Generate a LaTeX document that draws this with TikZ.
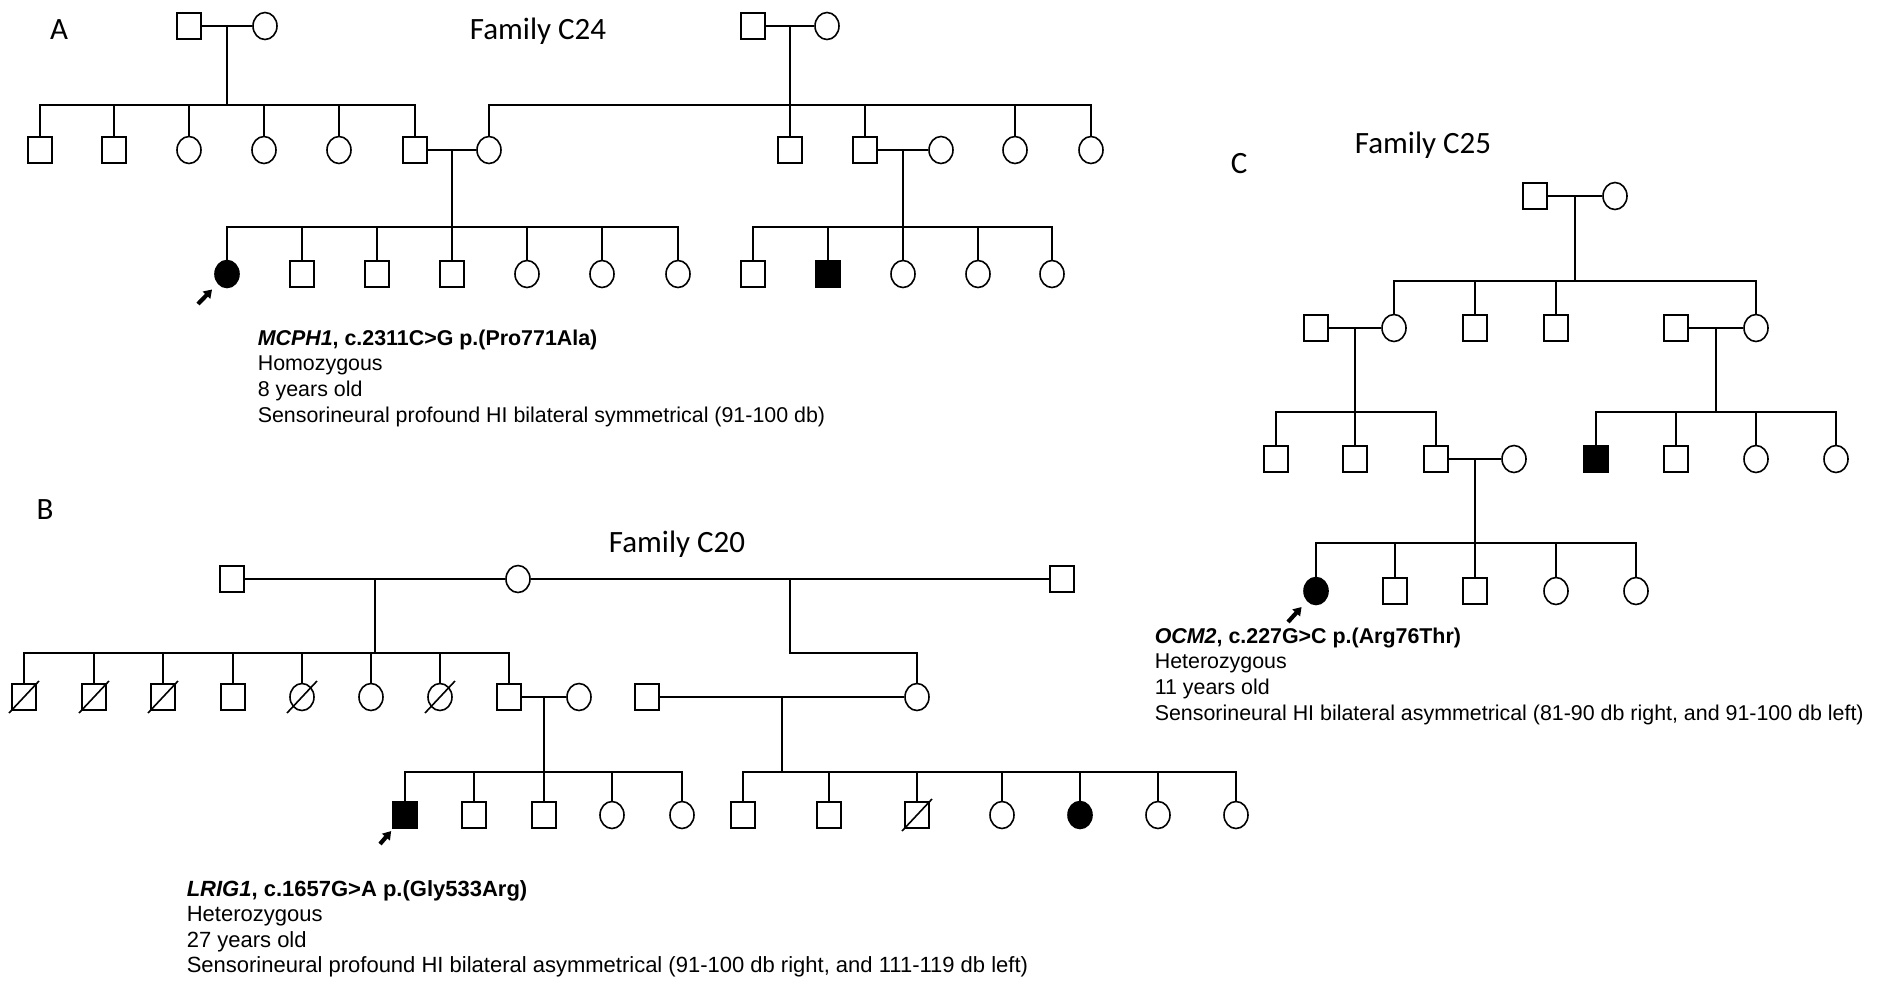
\documentclass[tikz,border=0pt]{standalone}
\usepackage{fontspec}
\usepackage{tikz}
\usetikzlibrary{shapes.geometric,arrows.meta,calc}
\newfontfamily\labelfont{Carlito}
\newfontfamily\infofont{Liberation Sans}

\begin{document}
\begin{tikzpicture}[x=0.5pt,y=-0.5pt,line width=0.8pt,
	male/.style={draw,rectangle,minimum width=12pt,minimum height=13pt,inner sep=0pt},
	female/.style={draw,ellipse,minimum width=12pt,minimum height=13.5pt,inner sep=0pt},
	aff/.style={fill=black},
	dead/.style={append after command={($(\tikzlastnode.center)+(-7.5pt,-8pt)$) edge ($(\tikzlastnode.center)+(7.5pt,8pt)$)}},
	famlabel/.style={font=\labelfont\fontsize{15.5}{18}\selectfont,anchor=base,inner sep=0pt},
	info/.style={font=\infofont\fontsize{10.7}{12.8}\selectfont,align=left,anchor=north west,inner sep=0pt},
	proband/.style={-{Triangle[length=4pt,width=5pt]},line width=2.1pt}]
		%
		\path[fill=white] (0,0) rectangle (1885,981);
		\useasboundingbox (0,0) rectangle (1885,981);
		%
		% Family C24
		\node[famlabel] (lblA) at (59,39) {A};
		\node[famlabel] (famA) at (538,39) {Family C24};
		\node[male] (a11) at (189,26) {};
		\node[female] (a12) at (265,26) {};
		\node[male] (a13) at (753,26) {};
		\node[female] (a14) at (827,26) {};
		\draw (a11) -- (a12);
		\draw (a13) -- (a14);
		\coordinate (a1m) at ($(a11)!0.5!(a12)$);
		\coordinate (a1n) at ($(a13)!0.5!(a14)$);
		\coordinate (yA2) at (0,105);
		%
		\node[male] (a21) at (40,150) {};
		\node[male] (a22) at (114,150) {};
		\node[female] (a23) at (189,150) {};
		\node[female] (a24) at (264,150) {};
		\node[female] (a25) at (339,150) {};
		\node[male] (a26) at (415,150) {};
		\node[female] (a27) at (489,150) {};
		\node[male] (a28) at (790,150) {};
		\node[male] (a29) at (865,150) {};
		\node[female] (a210) at (941,150) {};
		\node[female] (a211) at (1015,150) {};
		\node[female] (a212) at (1091,150) {};
		\draw (a1m) -- (a1m |- yA2);
		\draw (a21) |- (a26 |- yA2) -- (a26); %left sibs
		\draw (a22) -- (a22 |- yA2);
		\draw (a23) -- (a23 |- yA2);
		\draw (a24) -- (a24 |- yA2);
		\draw (a25) -- (a25 |- yA2);
		\draw (a27) |- (a212 |- yA2) -- (a212); %right sibs
		\draw (a1n) -- (a28);
		\draw (a29) -- (a29 |- yA2);
		\draw (a211) -- (a211 |- yA2);
		\draw (a26) -- (a27);
		\draw (a29) -- (a210);
		\coordinate (a2m) at ($(a26)!0.5!(a27)$);
		\coordinate (a2n) at ($(a29)!0.5!(a210)$);
		\coordinate (yA3) at (0,227);
		%
		\node[female,aff] (a31) at (227,274) {};
		\node[male] (a32) at (302,274) {};
		\node[male] (a33) at (377,274) {};
		\node[male] (a34) at (452,274) {};
		\node[female] (a35) at (527,274) {};
		\node[female] (a36) at (602,274) {};
		\node[female] (a37) at (678,274) {};
		\node[male] (a38) at (753,274) {};
		\node[male,aff] (a39) at (828,274) {};
		\node[female] (a310) at (903,274) {};
		\node[female] (a311) at (978,274) {};
		\node[female] (a312) at (1052,274) {};
		\draw (a2m) -- (a34);
		\draw (a31) |- (a37 |- yA3) -- (a37);
		\draw (a32) -- (a32 |- yA3);
		\draw (a33) -- (a33 |- yA3);
		\draw (a35) -- (a35 |- yA3);
		\draw (a36) -- (a36 |- yA3);
		\draw (a2n) -- (a310);
		\draw (a38) |- (a312 |- yA3) -- (a312);
		\draw (a39) -- (a39 |- yA3);
		\draw (a311) -- (a311 |- yA3);
		%
		\coordinate (pA) at (198,304);
		\draw[proband,shorten >=4pt] (pA) -- (a31);
		\node[info] (txtA) at (257,329) {\textbf{\textit{MCPH1}, c.2311C>G p.(Pro771Ala)}\\Homozygous\\8 years old\\Sensorineural profound HI bilateral symmetrical (91-100 db)};
		%
		% Family C20
		\node[famlabel] (lblB) at (45,519) {B};
		\node[famlabel] (famB) at (677,552) {Family C20};
		\node[male] (b11) at (232,579) {};
		\node[female] (b12) at (518,579) {};
		\node[male] (b13) at (1062,579) {};
		\draw (b11) -- (b12);
		\draw (b12) -- (b13);
		\coordinate (b1m) at ($(b11)!0.5!(b12)$);
		\coordinate (b1n) at ($(b12)!0.5!(b13)$);
		\coordinate (yB2) at (0,653);
		%
		\node[male,dead] (b21) at (24,697) {};
		\node[male,dead] (b22) at (94,697) {};
		\node[male,dead] (b23) at (163,697) {};
		\node[male] (b24) at (233,697) {};
		\node[female,dead] (b25) at (302,697) {};
		\node[female] (b26) at (371,697) {};
		\node[female,dead] (b27) at (440,697) {};
		\node[male] (b28) at (509,697) {};
		\node[female] (b29) at (579,697) {};
		\node[male] (b210) at (647,697) {};
		\node[female] (b211) at (917,697) {};
		\draw (b1m) -- (b1m |- yB2);
		\draw (b21) |- (b28 |- yB2) -- (b28);
		\draw (b22) -- (b22 |- yB2);
		\draw (b23) -- (b23 |- yB2);
		\draw (b24) -- (b24 |- yB2);
		\draw (b25) -- (b25 |- yB2);
		\draw (b26) -- (b26 |- yB2);
		\draw (b27) -- (b27 |- yB2);
		\draw (b1n) |- (b211 |- yB2) -- (b211);
		\draw (b28) -- (b29);
		\draw (b210) -- (b211);
		\coordinate (b2m) at ($(b28)!0.5!(b29)$);
		\coordinate (b2n) at ($(b210)!0.5!(b211)$);
		\coordinate (yB3) at (0,772);
		%
		\node[male,aff] (b31) at (405,815) {};
		\node[male] (b32) at (474,815) {};
		\node[male] (b33) at (544,815) {};
		\node[female] (b34) at (612,815) {};
		\node[female] (b35) at (682,815) {};
		\node[male] (b36) at (743,815) {};
		\node[male] (b37) at (829,815) {};
		\node[male,dead] (b38) at (917,815) {};
		\node[female] (b39) at (1002,815) {};
		\node[female,aff] (b310) at (1080,815) {};
		\node[female] (b311) at (1158,815) {};
		\node[female] (b312) at (1236,815) {};
		\draw (b2m) -- (b33);
		\draw (b31) |- (b35 |- yB3) -- (b35);
		\draw (b32) -- (b32 |- yB3);
		\draw (b34) -- (b34 |- yB3);
		\draw (b2n) -- (b2n |- yB3);
		\draw (b36) |- (b312 |- yB3) -- (b312);
		\draw (b37) -- (b37 |- yB3);
		\draw (b38) -- (b38 |- yB3);
		\draw (b39) -- (b39 |- yB3);
		\draw (b310) -- (b310 |- yB3);
		\draw (b311) -- (b311 |- yB3);
		%
		\coordinate (pB) at (380,844);
		\draw[proband,shorten >=1.5pt] (pB) -- (b31);
		\node[info,font=\infofont\fontsize{11}{12.6}\selectfont] (txtB) at (186,880) {\textbf{\textit{LRIG1}, c.1657G>A p.(Gly533Arg)}\\Heterozygous\\27 years old\\Sensorineural profound HI bilateral asymmetrical (91-100 db right, and 111-119 db left)};
		%
		% Family C25
		\node[famlabel] (lblC) at (1239,173) {C};
		\node[famlabel] (famC) at (1423,153) {Family C25};
		\node[male] (c11) at (1535,196) {};
		\node[female] (c12) at (1615,196) {};
		\draw (c11) -- (c12);
		\coordinate (c1m) at ($(c11)!0.5!(c12)$);
		\coordinate (yC2) at (0,281);
		%
		\node[male] (c21) at (1316,328) {};
		\node[female] (c22) at (1394,328) {};
		\node[male] (c23) at (1475,328) {};
		\node[male] (c24) at (1556,328) {};
		\node[male] (c25) at (1676,328) {};
		\node[female] (c26) at (1756,328) {};
		\draw (c1m) -- (c1m |- yC2);
		\draw (c22) |- (c26 |- yC2) -- (c26);
		\draw (c23) -- (c23 |- yC2);
		\draw (c24) -- (c24 |- yC2);
		\draw (c21) -- (c22);
		\draw (c25) -- (c26);
		\coordinate (c2m) at ($(c21)!0.5!(c22)$);
		\coordinate (c2n) at ($(c25)!0.5!(c26)$);
		\coordinate (yC3) at (0,412);
		%
		\node[male] (c31) at (1276,459) {};
		\node[male] (c32) at (1355,459) {};
		\node[male] (c33) at (1436,459) {};
		\node[female] (c34) at (1514,459) {};
		\node[male,aff] (c35) at (1596,459) {};
		\node[male] (c36) at (1676,459) {};
		\node[female] (c37) at (1756,459) {};
		\node[female] (c38) at (1836,459) {};
		\draw (c2m) -- (c32);
		\draw (c31) |- (c33 |- yC3) -- (c33);
		\draw (c2n) -- (c2n |- yC3);
		\draw (c35) |- (c38 |- yC3) -- (c38);
		\draw (c36) -- (c36 |- yC3);
		\draw (c37) -- (c37 |- yC3);
		\draw (c33) -- (c34);
		\coordinate (c3m) at ($(c33)!0.5!(c34)$);
		\coordinate (yC4) at (0,543);
		%
		\node[female,aff] (c41) at (1316,591) {};
		\node[male] (c42) at (1395,591) {};
		\node[male] (c43) at (1475,591) {};
		\node[female] (c44) at (1556,591) {};
		\node[female] (c45) at (1636,591) {};
		\draw (c3m) -- (c43);
		\draw (c41) |- (c45 |- yC4) -- (c45);
		\draw (c42) -- (c42 |- yC4);
		\draw (c44) -- (c44 |- yC4);
		%
		\coordinate (pC) at (1288,622);
		\draw[proband,shorten >=4pt] (pC) -- (c41);
		\node[info] (txtC) at (1154,627) {\textbf{\textit{OCM2}, c.227G>C p.(Arg76Thr)}\\Heterozygous\\11 years old\\Sensorineural HI bilateral asymmetrical (81-90 db right, and 91-100 db left)};
	\end{tikzpicture}
\end{document}
